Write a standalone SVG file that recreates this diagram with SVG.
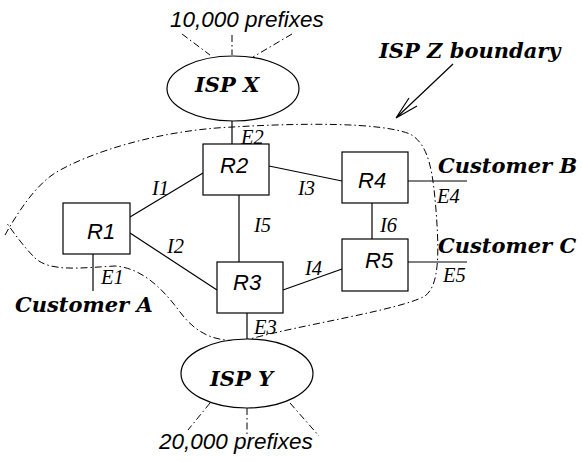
<svg xmlns="http://www.w3.org/2000/svg" width="582" height="461" viewBox="0 0 582 461">
  <style>
    .box { fill: #fff; stroke: #000; stroke-width: 1.2; }
    .isp { fill: #fff; stroke: #000; stroke-width: 1.2; }
    .link { fill: none; stroke: #000; stroke-width: 1.2; }
    .dd { fill: none; stroke: #000; stroke-width: 1; stroke-dasharray: 7 3 1.5 3; }
    .rname { font-family: "Liberation Sans", Arial, sans-serif; font-style: italic; font-size: 22px; fill: #000; }
    .pfx { font-family: "Liberation Sans", Arial, sans-serif; font-style: italic; font-size: 22.5px; fill: #000; }
    .lbl { font-family: "Liberation Serif", "Times New Roman", serif; font-style: italic; font-size: 20.5px; fill: #000; }
    .big { font-family: "DejaVu Serif", serif; font-style: italic; font-weight: bold; font-size: 21px; fill: #000; }
  </style>

  <!-- ISP Z boundary outline and pointer -->
  <g id="boundary">
    <path class="dd" d="M 5,235 C 18,212 35,186 55,173 C 90,152 160,130 233,127 C 300,123 380,122 410,134 C 430,145 433,175 436,210 C 439,250 440,285 425,296 C 400,310 300,325 250,339 C 215,345 195,332 180,312 C 160,285 140,268 115,266 C 80,268 50,272 35,258 C 25,248 16,236 6,222"/>
    <path class="link" d="M 453,64 L 396,118 M 409,98 L 396,118 L 417,106"/>
    <text class="big" x="379" y="58">ISP Z boundary</text>
  </g>

  <!-- connectors -->
  <g id="connectors">
    <line class="link" x1="232" y1="121" x2="232" y2="150"/>
    <line class="link" x1="130" y1="217" x2="203" y2="173"/>
    <line class="link" x1="130" y1="233" x2="217" y2="290"/>
    <line class="link" x1="239" y1="195" x2="239" y2="262"/>
    <line class="link" x1="269" y1="166" x2="342" y2="181"/>
    <line class="link" x1="283" y1="290" x2="342" y2="269"/>
    <line class="link" x1="372" y1="203" x2="372" y2="239"/>
    <line class="link" x1="408" y1="181" x2="467" y2="181"/>
    <line class="link" x1="408" y1="262" x2="467" y2="262"/>
    <line class="link" x1="93" y1="254" x2="93" y2="291"/>
    <line class="link" x1="247" y1="313" x2="247" y2="348"/>
    <!-- prefix fans -->
    <line class="dd" x1="182" y1="34" x2="210" y2="55"/>
    <line class="dd" x1="232" y1="35" x2="232" y2="55"/>
    <line class="dd" x1="292" y1="34" x2="253" y2="57"/>
    <line class="dd" x1="210" y1="403" x2="188" y2="430"/>
    <line class="dd" x1="247" y1="408" x2="247" y2="437"/>
    <line class="dd" x1="290" y1="403" x2="319" y2="436"/>
    <!-- link labels -->
    <text class="lbl" x="241" y="144">E2</text>
    <text class="lbl" x="152" y="195">I1</text>
    <text class="lbl" x="298" y="195">I3</text>
    <text class="lbl" x="254" y="232">I5</text>
    <text class="lbl" x="380" y="232">I6</text>
    <text class="lbl" x="167" y="253">I2</text>
    <text class="lbl" x="305" y="275">I4</text>
    <text class="lbl" x="437" y="203">E4</text>
    <text class="lbl" x="443" y="282">E5</text>
    <text class="lbl" x="101" y="284">E1</text>
    <text class="lbl" x="254" y="334">E3</text>
  </g>

  <g id="ispx">
    <ellipse class="isp" cx="233" cy="88.5" rx="66" ry="32.5"/>
    <text class="big" x="195" y="92">ISP X</text>
    <text class="pfx" x="170" y="27">10,000 prefixes</text>
  </g>

  <g id="ispy">
    <ellipse class="isp" cx="247" cy="373.5" rx="66" ry="34.5"/>
    <text class="big" x="210" y="386">ISP Y</text>
    <text class="pfx" x="159" y="449">20,000 prefixes</text>
  </g>

  <g id="r1">
    <rect class="box" x="63" y="203" width="67" height="51"/>
    <text class="rname" x="87" y="239">R1</text>
  </g>
  <g id="r2">
    <rect class="box" x="203" y="144" width="66" height="51"/>
    <text class="rname" x="220" y="173">R2</text>
  </g>
  <g id="r3">
    <rect class="box" x="217" y="262" width="66" height="51"/>
    <text class="rname" x="233" y="290">R3</text>
  </g>
  <g id="r4">
    <rect class="box" x="342" y="152" width="66" height="51"/>
    <text class="rname" x="358" y="188">R4</text>
  </g>
  <g id="r5">
    <rect class="box" x="342" y="239" width="66" height="52"/>
    <text class="rname" x="365" y="268">R5</text>
  </g>

  <g id="customers">
    <text class="big" x="15" y="312">Customer A</text>
    <text class="big" x="438" y="173">Customer B</text>
    <text class="big" x="438" y="253">Customer C</text>
  </g>
</svg>
